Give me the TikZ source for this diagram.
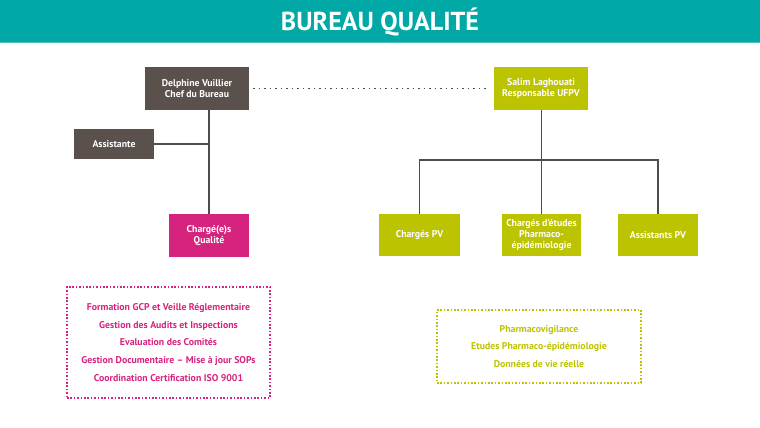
\documentclass[tikz,border=0pt]{standalone}
\usepackage{fontspec}
\setmainfont{PT Sans}
\definecolor{bandteal}{HTML}{00A9A5}
\definecolor{bandline}{HTML}{4FC3BF}
\definecolor{boxgray}{HTML}{5B514C}
\definecolor{boxpink}{HTML}{D6237E}
\definecolor{boxolive}{HTML}{BCC300}
\definecolor{linegray}{HTML}{4D4D4D}
\tikzset{
  orgbox/.style={draw=none, text=white, font=\fontsize{9.8}{11}\selectfont\bfseries, align=center, inner sep=0pt},
  conn/.style={draw=linegray, line width=1.3pt},
  dotbox/.style={line width=1.6pt, dash pattern=on 1.6pt off 1.8pt, align=center, inner sep=0pt, font=\fontsize{9.8}{17.6}\selectfont\bfseries}
}
\begin{document}
\begin{tikzpicture}[x=1pt,y=-1pt]
\useasboundingbox (0,0) rectangle (760,428);
\fill[bandteal] (0,0) rectangle (760,42);
\fill[bandline] (0,42) rectangle (760,43.5);
\node[text=white, font=\fontsize{26}{26}\selectfont\bfseries] (title) at (380,21.5) {BUREAU QUALITÉ};

\node[orgbox, fill=boxgray, minimum width=104pt, minimum height=43pt] (chef) at (197,88.5) {Delphine Vuillier\\Chef du Bureau};
\node[orgbox, fill=boxgray, minimum width=80pt, minimum height=30pt] (assist) at (114,144) {Assistante};
\node[orgbox, fill=boxpink, minimum width=80pt, minimum height=43pt] (charge) at (209,235.5) {Chargé(e)s\\Qualité};

\node[orgbox, fill=boxolive, minimum width=94pt, minimum height=43pt] (salim) at (541,88.5) {Salim Laghouati\\Responsable UFPV};
\node[orgbox, fill=boxolive, minimum width=81pt, minimum height=42pt] (pv1) at (419.5,235) {Chargés PV};
\node[orgbox, fill=boxolive, minimum width=79pt, minimum height=42pt] (pv2) at (541.5,235) {Chargés d'études\\Pharmaco-\\épidémiologie};
\node[orgbox, fill=boxolive, minimum width=80pt, minimum height=42pt] (pv3) at (658,235) {Assistants PV};

\coordinate (bar) at (541,160);
\draw[conn] (charge.north |- chef.south) -- (charge.north);
\draw[conn] (assist.east) -- (assist.east -| charge.north);
\draw[conn] (salim.south -| pv2.north) -- (pv2.north);
\draw[conn] (pv1.north) -- (pv1.north |- bar) -- (pv3.north |- bar) -- (pv3.north);
\draw[linegray, line width=1.3pt, dash pattern=on 1.3pt off 4.2pt] ([xshift=4pt]chef.east) -- ([xshift=-7pt]salim.west);

\node[dotbox, draw=boxpink, text=boxpink, minimum width=203pt, minimum height=111pt] (ql) at (168.5,342.5) {Formation GCP et Veille Réglementaire\\Gestion des Audits et Inspections\\Evaluation des Comités\\Gestion Documentaire – Mise à jour SOPs\\Coordination Certification ISO 9001};
\node[dotbox, draw=boxolive, text=boxolive, minimum width=204pt, minimum height=73pt] (pvl) at (539,346.5) {Pharmacovigilance\\Etudes Pharmaco-épidémiologie\\Données de vie réelle};
\end{tikzpicture}
\end{document}
